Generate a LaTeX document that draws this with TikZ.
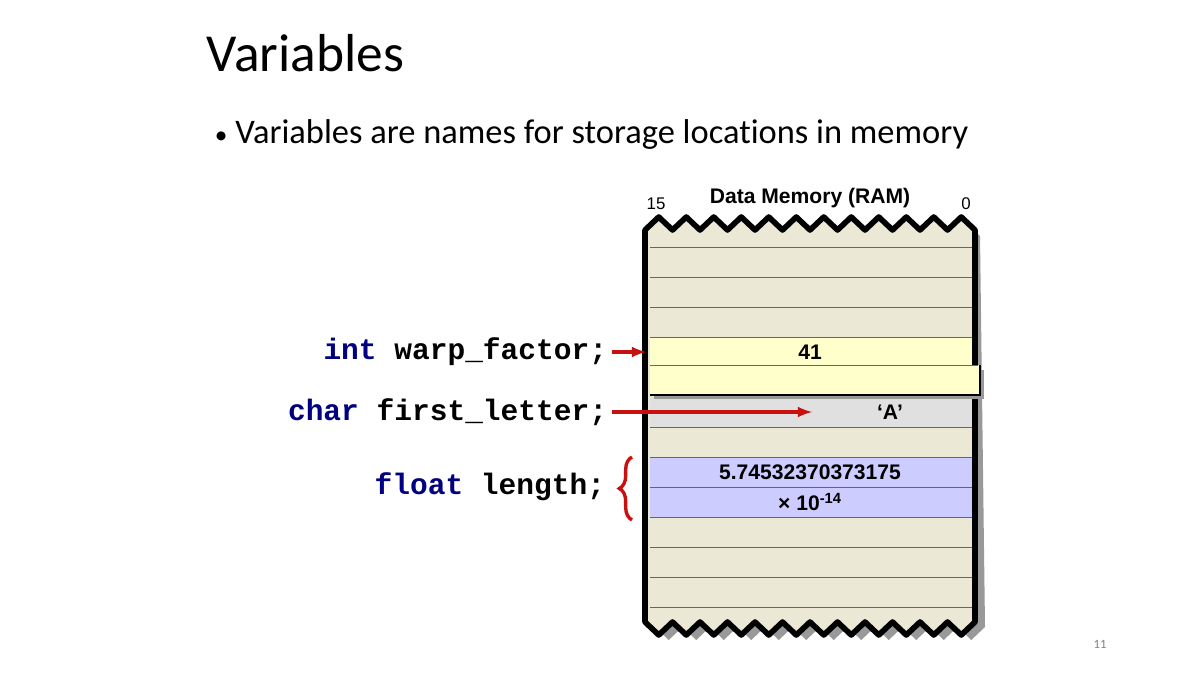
\documentclass[tikz,border=0pt]{standalone}
\usepackage{fontspec}
\setmainfont{Carlito}[Ligatures=NoCommon]
\newfontfamily\codefont{Liberation Mono}
\newfontfamily\cellfont{Liberation Sans}
\usetikzlibrary{decorations.pathreplacing}
\definecolor{memfill}{RGB}{236,232,214}
\definecolor{intfill}{RGB}{255,255,204}
\definecolor{charfill}{RGB}{224,224,224}
\definecolor{floatfill}{RGB}{204,204,255}
\definecolor{kwblue}{RGB}{0,0,128}
\definecolor{arrred}{RGB}{200,16,16}
\tikzset{
  code/.style={anchor=east, font=\codefont\bfseries\fontsize{21}{24}\selectfont},
  cell/.style={font=\cellfont\bfseries\fontsize{15}{17}\selectfont},
  rowline/.style={draw=black!60, line width=0.6pt},
  ptr/.style={draw=arrred, line width=2.4pt, -latex}
}
\begin{document}
\begin{tikzpicture}[x=0.025cm, y=-0.025cm]
	\useasboundingbox (0,0) rectangle (1200,675);
	\node[anchor=base west, font=\fontsize{38}{42}\selectfont] (title) at (202,72) {Variables};
	\node[anchor=base west, font=\fontsize{24.5}{28}\selectfont] (bullet) at (210,144) {{\fontsize{18}{20}\selectfont\textbullet}\ Variables are names for storage locations in memory};
	% memory block
	\fill[black!40] (650,236) \foreach \i in {0,...,11} { -- ++(13.75,-13) -- ++(13.75,13) } -- (985,627) \foreach \i in {0,...,11} { -- ++(-13.75,13) -- ++(-13.75,-13) } -- cycle;
	\fill[memfill] (645,230) \foreach \i in {0,...,11} { -- ++(13.75,-13) -- ++(13.75,13) } -- (975,622) \foreach \i in {0,...,11} { -- ++(-13.75,13) -- ++(-13.75,-13) } -- cycle;
	\fill[intfill] (650,337) rectangle (972,367);
	\fill[charfill] (650,397) rectangle (972,427);
	\fill[floatfill] (650,457) rectangle (972,517);
	\foreach \y in {247,277,307,337,427,457,487,517,547,577,607}
		\draw[rowline] (650,\y) -- (972,\y);
	\draw[line width=4pt, line join=round] (645,230) \foreach \i in {0,...,11} { -- ++(13.75,-13) -- ++(13.75,13) } -- (975,622) \foreach \i in {0,...,11} { -- ++(-13.75,13) -- ++(-13.75,-13) } -- cycle;
	\fill[black!40] (654,370) rectangle (984,399);
	\fill[intfill] (650,365) rectangle (980,395);
	\draw[line width=2pt] (650,395) -- (980,395) -- (980,365);
	\draw[rowline] (650,365) -- (978,365);
	\node[font=\cellfont\fontsize{12}{14}\selectfont] (hi) at (656,204) {15};
	\node[font=\cellfont\fontsize{12}{14}\selectfont] (lo) at (966,204) {0};
	\node[cell] (hdr) at (810,198) {Data Memory (RAM)};
	\node[cell] (v41) at (810,352) {41};
	\node[cell] (vA) at (890,412) {‘A’};
	\node[cell] (vf1) at (810,472) {5.74532370373175};
	\node[cell] (vf2) at (810,502) {× 10\textsuperscript{-14}};
	% declarations
	\node[code] (int) at (612,352) {\textcolor{kwblue}{int} warp\_factor;};
	\node[code] (chr) at (612,412) {\textcolor{kwblue}{char} first\_letter;};
	\node[code] (flt) at (610,487) {\textcolor{kwblue}{float} length;};
	\coordinate (intend) at (646,352);
	\coordinate (chrend) at (812,412);
	\draw[ptr] (int.east) -- (intend);
	\draw[ptr] (chr.east) -- (chrend);
	\draw[arrred, line width=2.4pt, decorate, decoration={brace, amplitude=9pt}] (632,520) -- (632,457);
	\node[text=black!50, font=\fontsize{9}{11}\selectfont] (page) at (1100,644) {11};
\end{tikzpicture}
\end{document}
